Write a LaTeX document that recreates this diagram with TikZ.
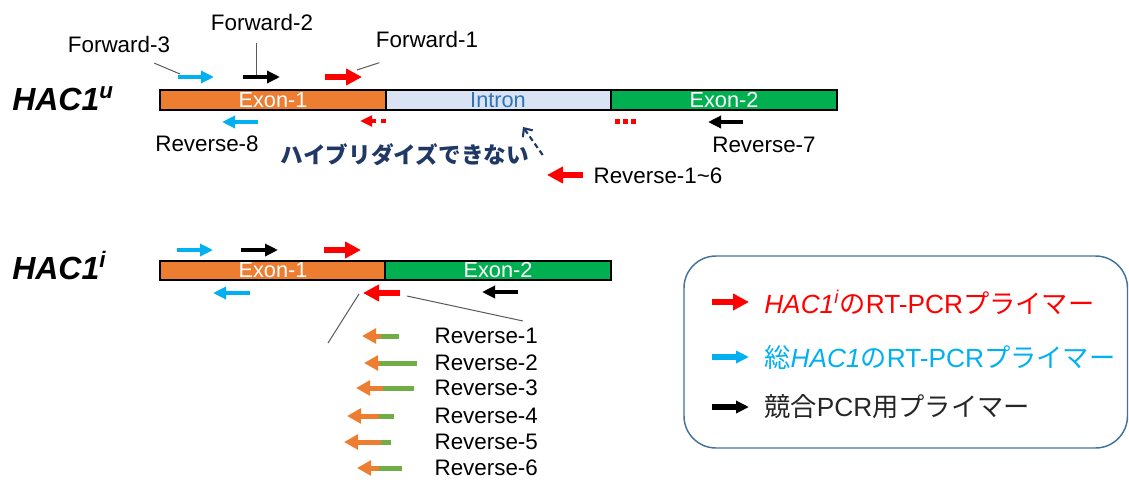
\documentclass[tikz,border=0pt]{standalone}
\usepackage{fontspec}
\setmainfont{Liberation Sans}
\newfontfamily\jpfont{Noto Sans CJK JP}
\usepackage{xcolor}
\usetikzlibrary{arrows.meta}

\definecolor{exonorange}{HTML}{ED7D31}
\definecolor{exongreen}{HTML}{00B050}
\definecolor{intronfill}{HTML}{DAE3F3}
\definecolor{introntext}{HTML}{2E75B6}
\definecolor{primercyan}{HTML}{00B0F0}
\definecolor{primerred}{HTML}{FF0000}
\definecolor{hybnavy}{HTML}{1F3864}
\definecolor{tailgreen}{HTML}{70AD47}
\definecolor{boxblue}{HTML}{41719C}
\definecolor{leadgray}{HTML}{595959}

\tikzset{
  primer/.style={line width=3.5pt, -{Triangle[length=9.75pt,width=9pt]}},
  redprimer/.style={primerred, line width=4pt, -{Triangle[length=12pt,width=12pt]}},
  seg/.style={draw=black, line width=1.5pt},
  seglabel/.style={text=white, font=\fontsize{16.3}{19}\selectfont, inner sep=0pt},
  lbl/.style={font=\fontsize{16.8}{20}\selectfont, inner sep=1pt},
  leader/.style={draw=leadgray, line width=0.75pt},
  genename/.style={font=\fontsize{24}{28}\selectfont\bfseries\itshape, anchor=west, inner sep=0pt},
  revhead/.style={exonorange, line width=3.75pt, -{Triangle[length=10.5pt,width=11pt]}},
  revtail/.style={tailgreen, line width=3.75pt},
  legendtext/.style={font=\fontsize{19.7}{23}\selectfont, anchor=west, inner sep=0pt}
}

\begin{document}
\begin{tikzpicture}[x=0.75pt, y=-0.75pt]
  \useasboundingbox (0,0) rectangle (1129,479);

  % unspliced HAC1 mRNA
  \node[genename] (hacu) at (12,98.5) {HAC1\textsuperscript{u}};
  \draw[seg, fill=exonorange] (160,90) rectangle (386,110);
  \draw[seg, fill=intronfill] (386,90) rectangle (611,110);
  \draw[seg, fill=exongreen] (611,90) rectangle (837,110);
  \node[seglabel] (ue1) at (273,100) {Exon-1};
  \node[seglabel, text=introntext] (uin) at (498,100) {Intron};
  \node[seglabel] (ue2) at (724,100) {Exon-2};

  % forward primers
  \draw[primer, primercyan] (178,77) -- (214,77);
  \draw[primer] (243,77) -- (280,77);
  \draw[redprimer] (325,77) -- (362,77);
  \coordinate (uf3) at (180,74);
  \coordinate (uf2) at (256,75);
  \coordinate (uf1) at (357,70);
  \node[lbl] (fwd3) at (119,44) {Forward-3};
  \node[lbl] (fwd2) at (262,22.5) {Forward-2};
  \node[lbl] (fwd1) at (427,39.5) {Forward-1};
  \draw[leader] ([xshift=-13pt,yshift=-7pt]fwd3.south east) -- (uf3);
  \draw[leader] ([xshift=-4.5pt,yshift=-8pt]fwd2.south) -- (uf2);
  \draw[leader] ([xshift=3.75pt,yshift=-10pt]fwd1.south west) -- (uf1);

  % reverse primers
  \draw[primer, primercyan] (258,122) -- (222,122);
  \node[lbl] (rev8) at (207,144) {Reverse-8};
  \draw[primer] (743,122) -- (708,122);
  \node[lbl] (rev7) at (764,144.5) {Reverse-7};

  % junction primer cannot bind the unspliced form
  \draw[primerred, line width=3pt, dash pattern=on 4pt off 3.5pt,
        -{Triangle[length=9pt,width=8pt]}] (386,121) -- (360,121);
  \draw[primerred, line width=3.75pt, dash pattern=on 3.75pt off 2.25pt] (615,121) -- (637,121);
  \node[font=\jpfont\bfseries\fontsize{17}{20}\selectfont, text=hybnavy, inner sep=1pt]
    (hyb) at (405,155) {ハイブリダイズできない};
  \coordinate (hybtip) at (523,127);
  \draw[hybnavy, line width=1.6pt, dash pattern=on 4pt off 2.5pt,
        -{Straight Barb[length=5pt,width=9pt]}] ([xshift=9pt]hyb.east) -- (hybtip);
  \draw[redprimer] (583,175) -- (547,175);
  \node[lbl, anchor=west] (rev16) at (592,176) {Reverse-1\textasciitilde6};

  % spliced HAC1 mRNA
  \node[genename] (haci) at (12,265.5) {HAC1\textsuperscript{i}};
  \draw[seg, fill=exonorange] (160,261) rectangle (385,280);
  \draw[seg, fill=exongreen] (385,261) rectangle (611,280);
  \node[seglabel] (ie1) at (273,270.5) {Exon-1};
  \node[seglabel] (ie2) at (498,270.5) {Exon-2};

  \draw[primer, primercyan] (177,250) -- (213,250);
  \draw[primer] (241,250) -- (278,250);
  \draw[redprimer] (324,250) -- (361,250);
  \draw[primer, primercyan] (250,293) -- (213,293);
  \draw[redprimer] (400,293) -- (363,293);
  \draw[primer] (518,292) -- (482,292);

  % close-up of the junction primers
  \coordinate (zoomL) at (328,343);
  \coordinate (zoomR) at (523,321);
  \coordinate (junL) at (359,294);
  \coordinate (junR) at (407,296);
  \draw[leader] (junL) -- (zoomL);
  \draw[leader] (junR) -- (zoomR);

  \draw[revtail] (380,336) -- (399,336);
  \draw[revhead] (381,336) -- (362,336);
  \node[lbl, anchor=west] (r1) at (433,336) {Reverse-1};
  \draw[revtail] (379,363) -- (417,363);
  \draw[revhead] (380,363) -- (364,363);
  \node[lbl, anchor=west] (r2) at (433,363) {Reverse-2};
  \draw[revtail] (382,388) -- (414,388);
  \draw[revhead] (383,388) -- (356,388);
  \node[lbl, anchor=west] (r3) at (433,388) {Reverse-3};
  \draw[revtail] (378,416) -- (394,416);
  \draw[revhead] (379,416) -- (347,416);
  \node[lbl, anchor=west] (r4) at (433,416) {Reverse-4};
  \draw[revtail] (380,442) -- (391,442);
  \draw[revhead] (381,442) -- (344,442);
  \node[lbl, anchor=west] (r5) at (433,442) {Reverse-5};
  \draw[revtail] (378,468) -- (402,468);
  \draw[revhead] (379,468) -- (357,468);
  \node[lbl, anchor=west] (r6) at (433,468) {Reverse-6};

  % legend
  \draw[boxblue, line width=1.1pt, rounded corners=24pt] (684,256) rectangle (1127.5,448);
  \draw[redprimer] (712,302) -- (749,302);
  \node[legendtext, text=primerred] (lg1) at (764,302)
    {\textit{HAC1}\textsuperscript{\textit{i}}{\jpfont の}RT-PCR{\jpfont プライマー}};
  \draw[primer, primercyan, line width=4pt] (712,357) -- (749,357);
  \node[legendtext, text=primercyan] (lg2) at (764,357)
    {{\jpfont 総}\textit{HAC1}{\jpfont の}RT-PCR{\jpfont プライマー}};
  \draw[primer, line width=4pt] (712,407) -- (749,407);
  \node[legendtext, text=black!85] (lg3) at (764,407)
    {{\jpfont 競合}PCR{\jpfont 用プライマー}};
\end{tikzpicture}
\end{document}
